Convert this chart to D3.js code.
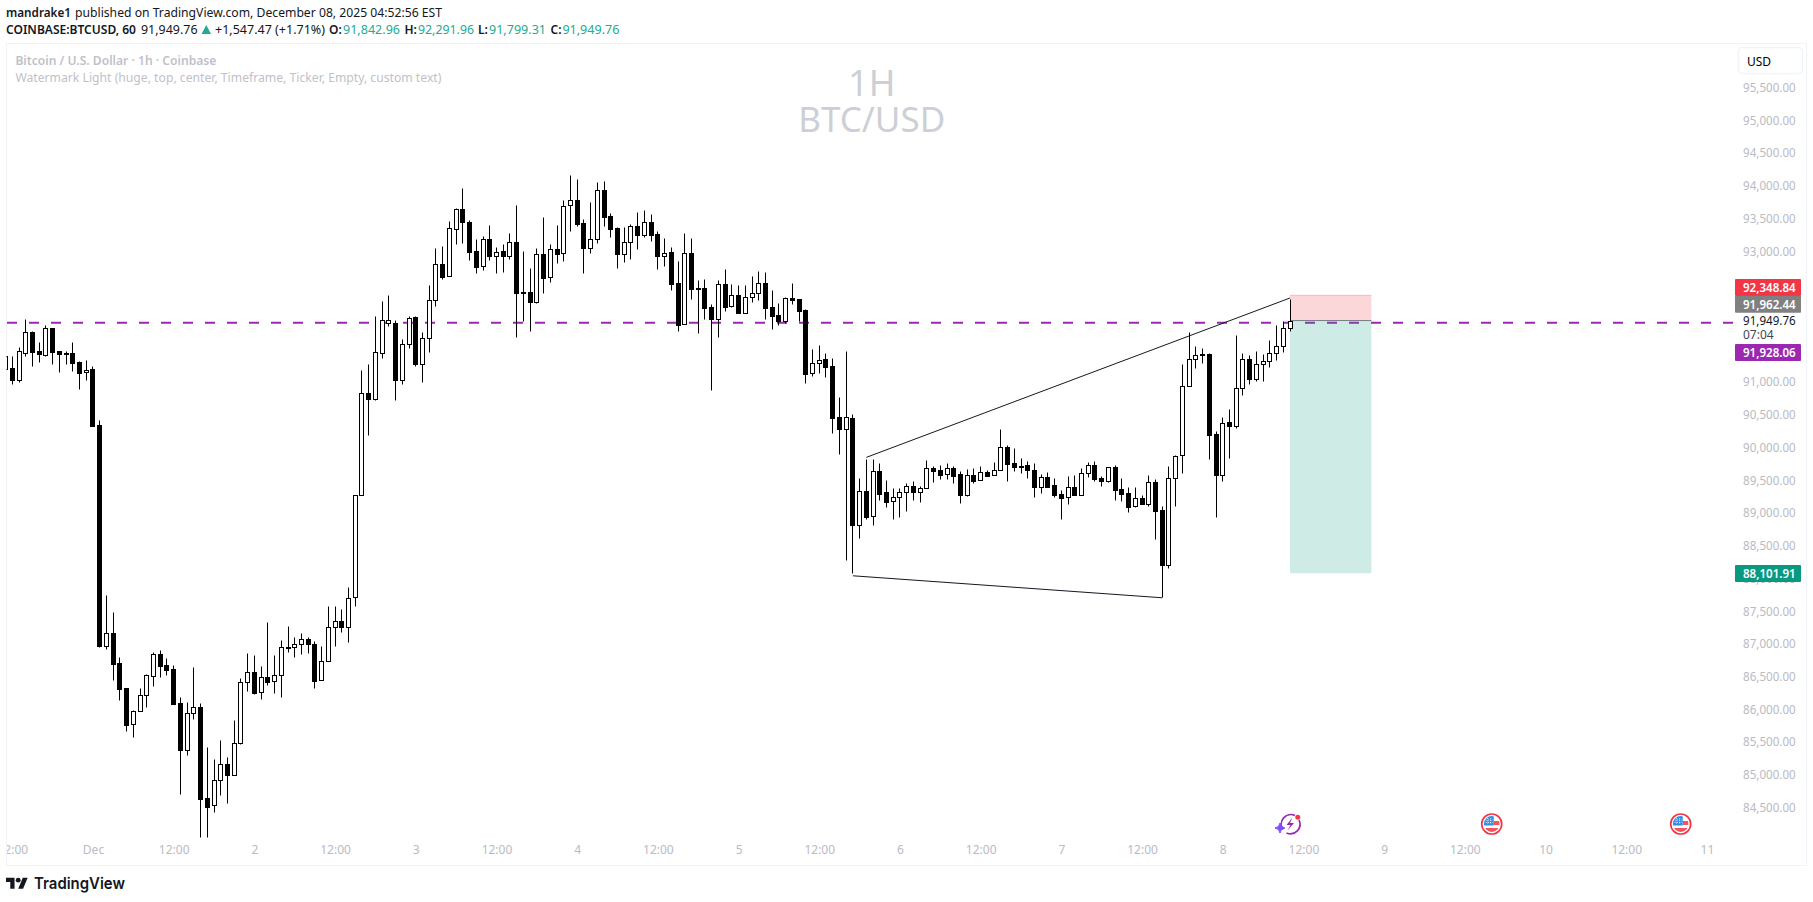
<!DOCTYPE html>
<html>
<head>
<meta charset="utf-8">
<title>BTCUSD 1h</title>
<script src="https://cdnjs.cloudflare.com/ajax/libs/d3/7.8.5/d3.min.js"></script>
<style>
html, body { margin: 0; background: #fff; }
svg { display: block; font-family: "Noto Sans", sans-serif; }
</style>
</head>
<body>
<svg id="chart" width="1813" height="902"></svg>
<script>
// hourly candles
var opens = [91222,91233,91059,91472,91782,91492,91441,91843,91492,91462,91462,91324,91171,91217,90362,86995,87183,86725,86343,85793,
  85992,86236,86526,86862,86694,86633,86114,85396,85961,86053,84663,84557,84938,85183,85015,85513,86435,86587,86282,86511,
  86450,86542,86969,86969,87015,87091,87015,86465,86755,87275,87366,87275,87736,89293,90851,90769,91473,91921,91921,91059,
  91600,92013,91305,91692,92272,92822,92639,93356,93662,93463,93020,92791,93204,92954,93020,92954,93158,92394,92394,92252,
  92974,92623,93051,92990,93723,93799,93448,93076,93204,93952,93555,93372,92985,93158,93402,93275,93463,93280,92954,93005,
  92532,91906,92990,92455,92455,92165,91992,92516,92180,92348,92084,92318,92379,92532,92165,92043,91962,92303,92287,92119,
  91157,91310,91371,91263,90484,90301,90469,88835,89354,88972,89660,89339,89201,89263,89339,89431,89339,89400,89705,89675,
  89614,89705,89614,89303,89598,89522,89644,89598,89675,90026,89782,89736,89751,89675,89425,89568,89446,89308,89263,89415,
  89303,89629,89751,89553,89513,89721,89385,89324,89126,89248,89167,89492,89065,88235,89553,89905,90958,91371,91452,91447,
  90225,89609,90408,90358,90928,91371,91075,91294,91340,91462,91569,91842.96];
var highs = [91421,91421,91553,91981,91798,91630,91889,91843,91492,91492,91630,91339,91355,91263,90439,87771,87504,86816,86343,86007,
  86343,86557,86893,86923,86801,86694,86206,86129,86664,86114,85442,85259,85549,85290,85855,86496,86878,86847,86679,87351,
  86847,87076,87290,87122,87183,87122,87061,86984,87600,87600,87549,87888,89293,91207,91299,92032,92257,92348,91967,91677,
  92028,92028,91783,92501,93066,93097,93478,93677,93982,93494,93204,93249,93417,93081,93127,93295,93723,93020,92761,93066,
  93540,93127,93417,93799,94181,94120,93509,93769,94074,94089,93601,93387,93387,93433,93616,93646,93585,93326,93219,93081,
  92868,93295,93219,92578,92593,92211,92577,92745,92516,92501,92501,92639,92715,92700,92425,92226,92318,92532,92287,92135,
  91524,91585,91463,91385,90790,91492,90530,89553,89843,89843,89782,89522,89400,89400,89476,89507,89431,89828,89736,89751,
  89782,89736,89660,89690,89705,89736,89675,89797,90301,90057,90011,89858,89812,89782,89614,89644,89553,89369,89583,89598,
  89705,89797,89812,89584,89721,89752,89553,89416,89416,89294,89599,89538,89126,89737,89905,91294,91783,91569,91539,91462,
  90271,90485,90607,91737,91462,91432,91493,91447,91661,91890,91951,92291.96];
var lows = [91222,90998,91029,91426,91273,91334,91426,91304,91182,91304,91197,90922,91059,90357,86974,86949,86470,86170,85697,85605,
  85992,86063,86384,86521,86552,86109,84735,85330,85870,84078,84078,84460,84719,84597,85015,85498,86308,86262,86185,86399,
  86277,86216,86903,86827,86873,86888,86353,86465,86755,86990,87203,87051,87608,89293,90220,90754,91397,91885,90754,90998,
  91549,91274,91030,91488,92191,92603,92639,93137,93153,92893,92695,92740,92893,92695,92710,92908,91717,91962,91809,92226,
  92389,92557,92847,92878,93336,93412,92695,93000,93153,93412,93244,92771,92863,92908,93061,93244,93183,92756,92801,92435,
  91809,91906,92298,91778,91992,90908,91717,92114,92175,92084,92084,92252,92282,91992,91839,91901,91931,92221,91951,91015,
  91122,91168,91106,90250,89929,88311,88112,88647,88937,88845,89227,89120,88937,88967,89059,89227,89196,89400,89502,89548,
  89548,89486,89181,89288,89486,89522,89593,89598,89675,89517,89670,89639,89563,89273,89334,89415,89273,88937,89166,89303,
  89303,89568,89517,89442,89503,89228,89212,89044,89121,89167,89136,88632,87736,88189,89136,89640,90958,91243,91320,89854,
  88968,89518,89869,90327,90831,90999,91045,91045,91259,91365,91488,91799.31];
var closes = [91421,91059,91492,91782,91487,91457,91843,91487,91457,91457,91319,91166,91212,90357,86995,87183,86720,86338,85788,85992,
  86236,86542,86862,86689,86628,86109,85407,85961,86053,84658,84536,84938,85183,85015,85503,86435,86587,86277,86511,86445,
  86542,86969,86964,87015,87091,87015,86460,86755,87275,87366,87275,87731,89293,90851,90769,91477,91967,91967,91059,91600,
  91997,91305,91692,92272,92822,92634,93372,93662,93463,93015,92786,93204,92954,93015,92954,93158,92389,92389,92252,92974,
  92618,93051,92985,93708,93799,93443,93076,93204,93952,93550,93366,92985,93158,93402,93275,93463,93275,92954,93000,92527,
  91901,92990,92450,92450,92160,91992,92516,92175,92348,92084,92318,92379,92532,92160,92038,91962,92303,92282,92114,91152,
  91310,91366,91259,90479,90301,90484,88835,89354,88967,89660,89319,89196,89263,89339,89431,89339,89400,89705,89670,89609,
  89705,89593,89303,89598,89517,89644,89593,89675,90026,89777,89731,89731,89675,89425,89568,89425,89303,89257,89415,89303,
  89629,89751,89548,89518,89721,89380,89319,89121,89248,89167,89492,89060,88235,89553,89889,90958,91371,91432,91447,90220,
  89609,90403,90358,90928,91371,91075,91294,91340,91462,91569,91844,91949.76];

// 91,500 to 92,500 sit under the label boxes in the picture, so they are left out
var priceTicks = [84500,85000,85500,86000,86500,87000,87500,88000,88500,89000,89500,90000,90500,91000,93000,93500,94000,94500,95000,95500];
var timeTickBars = [1,13,25,37,49,61,73,85,97,109,121,133,145,157,169,181,193,205,217,229,241,253];
var timeTickLabels = ["12:00","Dec","12:00","2","12:00","3","12:00","4","12:00","5","12:00","6","12:00","7","12:00","8","12:00","9","12:00","10","12:00","11"];

// drawings: bar index and price
var riseLine = [[128, 89872], [191, 92307]];
var fallLine = [[126, 88063], [172, 87727]];
var positionBars = [191, 203.1];
var stopPrice = 92348.84, entryPrice = 91962.44, targetPrice = 88101.91;
var alertPrice = 91928.06, lastPrice = 91949.76;
var eventBars = [191, 221, 249.1];

var W = 1813, H = 902;
var pane = {left: 6.5, top: 43.5, right: 1806.5, bottom: 865.5};
var axisTextX = 1795.7;
var GREY = "#b8bbc4", INK = "#131722", TEAL = "#22ab94";

var svg = d3.select("#chart");
var x = d3.scaleLinear().domain([0, 191]).range([5.575, 1290]);
var y = d3.scaleLinear().domain([84500, 95500]).range([809, 89]);

svg.append("defs").append("clipPath").attr("id", "paneClip").append("rect")
  .attr("x", pane.left).attr("y", pane.top)
  .attr("width", pane.right - pane.left).attr("height", pane.bottom - pane.top);

// pane frame
svg.append("rect")
  .attr("x", pane.left).attr("y", pane.top)
  .attr("width", pane.right - pane.left).attr("height", pane.bottom - pane.top)
  .attr("fill", "#fff").attr("stroke", "#f0f3fa");

// header text
function runs(list, yPos, size) {
  svg.append("g").selectAll("text").data(list).enter().append("text")
    .attr("x", function(d){ return d.x; })
    .attr("y", yPos)
    .attr("font-size", size)
    .attr("font-weight", function(d){ return d.bold ? 600 : 400; })
    .attr("fill", function(d){ return d.color || INK; })
    .attr("textLength", function(d){ return d.len || null; })
    .attr("lengthAdjust", "spacingAndGlyphs")
    .text(function(d){ return d.text; });
}
runs([
  {x: 6, text: "mandrake1", bold: true, len: 65},
  {x: 75, text: "published on TradingView.com, December 08, 2025 04:52:56 EST", len: 367}
], 16.5, 12);
runs([
  {x: 6, text: "COINBASE:BTCUSD, 60", bold: true, len: 130},
  {x: 141, text: "91,949.76", len: 56.5},
  {x: 215, text: "+1,547.47 (+1.71%)", len: 110},
  {x: 329, text: "O:", bold: true},
  {x: 343, text: "91,842.96", color: TEAL, len: 57},
  {x: 404.5, text: "H:", bold: true},
  {x: 418, text: "92,291.96", color: TEAL, len: 56},
  {x: 478, text: "L:", bold: true},
  {x: 489, text: "91,799.31", color: TEAL, len: 57},
  {x: 550.5, text: "C:", bold: true},
  {x: 562.4, text: "91,949.76", color: TEAL, len: 57}
], 33.5, 12);
svg.append("path").attr("d", "M201.5 34L206.3 25L211 34Z").attr("fill", TEAL);

// pane titles and watermark
runs([{x: 15.4, text: "Bitcoin / U.S. Dollar · 1h · Coinbase", bold: true, color: "#bfc1ca", len: 201}], 64.5, 12);
runs([{x: 15.4, text: "Watermark Light (huge, top, center, Timeframe, Ticker, Empty, custom text)", color: "#bfc1ca", len: 426}], 81.5, 12);
svg.append("text").attr("x", 871.7).attr("y", 96).attr("text-anchor", "middle")
  .attr("font-size", 36).attr("fill", "#cdcfd6").text("1H");
svg.append("text").attr("x", 871.7).attr("y", 132).attr("text-anchor", "middle")
  .attr("font-size", 35).attr("fill", "#cdcfd6").text("BTC/USD");

// alert line, below the position and the candles
svg.append("line")
  .attr("x1", 7).attr("x2", 1733)
  .attr("y1", y(alertPrice)).attr("y2", y(alertPrice))
  .attr("stroke", "#9c27b0").attr("stroke-width", 2).attr("stroke-dasharray", "10,12");

// short position box
svg.append("rect")
  .attr("x", x(positionBars[0])).attr("width", x(positionBars[1]) - x(positionBars[0]))
  .attr("y", y(stopPrice)).attr("height", y(entryPrice) - y(stopPrice))
  .attr("fill", "#f23645").attr("fill-opacity", 0.2);
svg.append("rect")
  .attr("x", x(positionBars[0])).attr("width", x(positionBars[1]) - x(positionBars[0]))
  .attr("y", y(entryPrice)).attr("height", y(targetPrice) - y(entryPrice))
  .attr("fill", "#089981").attr("fill-opacity", 0.2);
svg.append("line")
  .attr("x1", x(positionBars[0])).attr("x2", x(positionBars[1]))
  .attr("y1", y(stopPrice)).attr("y2", y(stopPrice))
  .attr("stroke", "#f23645").attr("stroke-opacity", 0.25);
svg.append("line")
  .attr("x1", x(positionBars[0])).attr("x2", x(positionBars[1]))
  .attr("y1", y(entryPrice)).attr("y2", y(entryPrice))
  .attr("stroke", "#787b86");

// candles
var cx = function(i){ return Math.floor(x(i)) + 0.5; };
var cy = function(p){ return Math.round(y(p)) + 0.5; };
var candle = svg.append("g").attr("clip-path", "url(#paneClip)")
  .selectAll("g").data(opens).enter().append("g");
candle.append("line")
  .attr("x1", function(d, i){ return cx(i); })
  .attr("x2", function(d, i){ return cx(i); })
  .attr("y1", function(d, i){ return cy(highs[i]); })
  .attr("y2", function(d, i){ return cy(lows[i]); })
  .attr("stroke", "#000");
candle.append("rect")
  .attr("x", function(d, i){ return cx(i) - 2; })
  .attr("width", 4)
  .attr("y", function(d, i){ return cy(Math.max(opens[i], closes[i])); })
  .attr("height", function(d, i){ return Math.max(1, cy(Math.min(opens[i], closes[i])) - cy(Math.max(opens[i], closes[i]))); })
  .attr("fill", function(d, i){ return closes[i] >= opens[i] ? "#fff" : "#000"; })
  .attr("stroke", "#000");

// trend lines
[riseLine, fallLine].forEach(function(l) {
  svg.append("line")
    .attr("x1", x(l[0][0])).attr("y1", y(l[0][1]))
    .attr("x2", x(l[1][0])).attr("y2", y(l[1][1]))
    .attr("stroke", INK).attr("stroke-width", 1);
});

// price axis
var priceAxis = svg.append("g")
  .attr("transform", "translate(" + axisTextX + ",0)")
  .call(d3.axisLeft(y).tickValues(priceTicks).tickSize(0).tickPadding(0).tickFormat(d3.format(",.2f")));
priceAxis.select(".domain").remove();
priceAxis.selectAll("text")
  .attr("font-family", '"Noto Sans", sans-serif').attr("font-size", 12)
  .attr("fill", GREY).attr("textLength", 52.7).attr("lengthAdjust", "spacingAndGlyphs")
  .attr("dy", "0.2em");

// time axis
var timeAxis = svg.append("g")
  .attr("transform", "translate(0,846)")
  .call(d3.axisBottom(x).tickValues(timeTickBars).tickSize(0).tickPadding(0)
    .tickFormat(function(d, i){ return timeTickLabels[i]; }));
timeAxis.select(".domain").remove();
timeAxis.selectAll("text")
  .attr("font-family", '"Noto Sans", sans-serif').attr("font-size", 12)
  .attr("fill", GREY).attr("dy", "0.7em");
// the first label runs off the pane on the left, as in the picture
svg.append("rect").attr("x", 0).attr("y", 840).attr("width", pane.left).attr("height", 20).attr("fill", "#fff");
svg.append("line").attr("x1", pane.left).attr("x2", pane.left).attr("y1", 840).attr("y2", 860).attr("stroke", "#f0f3fa");

// USD button
svg.append("rect").attr("x", 1738.5).attr("y", 47.5).attr("width", 64).attr("height", 26).attr("rx", 4)
  .attr("fill", "#fff").attr("stroke", "#f0f3fa").attr("stroke-width", 1.5);
svg.append("text").attr("x", 1747).attr("y", 65.5).attr("font-size", 12).attr("fill", "#000").text("USD");

// price labels on the axis
var labelBoxes = [
  {price: stopPrice, color: "#f23645"},
  {price: entryPrice, color: "#808080"},
  {price: alertPrice, color: "#9c27b0"},
  {price: targetPrice, color: "#089981"}
];
var fmt = d3.format(",.2f");
svg.append("g").selectAll("rect").data(labelBoxes).enter().append("rect")
  .attr("x", 1735).attr("width", 66).attr("height", 17).attr("rx", 1)
  .attr("y", function(d){ return d.price === stopPrice ? 279 : d.price === entryPrice ? 295.7 : d.price === alertPrice ? 344 : 565; })
  .attr("fill", function(d){ return d.color; });
svg.append("g").selectAll("text").data(labelBoxes).enter().append("text")
  .attr("x", axisTextX).attr("text-anchor", "end").attr("font-size", 12).attr("font-weight", 600)
  .attr("fill", "#fff").attr("textLength", 52.7).attr("lengthAdjust", "spacingAndGlyphs")
  .attr("y", function(d){ return d.price === stopPrice ? 291.8 : d.price === entryPrice ? 308.5 : d.price === alertPrice ? 356.8 : 577.8; })
  .text(function(d){ return fmt(d.price); });
svg.append("text").attr("x", axisTextX).attr("y", 325.2).attr("text-anchor", "end").attr("font-size", 12)
  .attr("fill", INK).attr("textLength", 52.7).attr("lengthAdjust", "spacingAndGlyphs").text(fmt(lastPrice));
svg.append("text").attr("x", 1743).attr("y", 339).attr("font-size", 12).attr("fill", "#434651").text("07:04");

// event icons
function boltIcon(g) {
  g.append("path").attr("d", "M-7 5.5A9.6 9.6 0 0 1 5 -8.6").attr("fill", "none").attr("stroke", "#9c27b0").attr("stroke-width", 1.7);
  g.append("path").attr("d", "M9 -4A9.6 9.6 0 0 1 -3.5 9").attr("fill", "none").attr("stroke", "#9c27b0").attr("stroke-width", 1.7);
  g.append("path").attr("d", "M2.5 -6.5L-3.5 1H0.5L-2.5 6.5L4 -1H0Z").attr("fill", "#9c27b0");
  g.append("circle").attr("cx", 7.8).attr("cy", -6.7).attr("r", 2.5).attr("fill", "#f23645");
  g.append("path").attr("d", "M-10 -1Q-9.4 3.4 -5 4Q-9.4 4.6 -10 9Q-10.6 4.6 -15 4Q-10.6 3.4 -10 -1Z")
    .attr("fill", "#7c4dff").attr("stroke", "#7c4dff");
}
function flagIcon(g, id) {
  g.append("clipPath").attr("id", id).append("circle").attr("r", 7.9);
  g.append("circle").attr("r", 10).attr("fill", "#fff").attr("stroke", "#f23645").attr("stroke-width", 1.7);
  var f = g.append("g").attr("clip-path", "url(#" + id + ")");
  f.append("rect").attr("x", -8).attr("y", -8).attr("width", 16).attr("height", 16).attr("fill", "#fff");
  f.append("rect").attr("x", 2).attr("y", -3).attr("width", 6).attr("height", 4).attr("fill", "#f7525f");
  f.append("rect").attr("x", -8).attr("y", 4).attr("width", 16).attr("height", 4).attr("fill", "#f7525f");
  f.append("rect").attr("x", -8).attr("y", -8).attr("width", 10).attr("height", 9.5).attr("fill", "#2e8fe8");
  f.append("path").attr("d", "M-4 -6V0M-1 -6V0M-6 -4H1M-6 -1.5H1").attr("stroke", "#fff").attr("stroke-width", 0.8)
    .attr("stroke-dasharray", "1,1.2");
}
eventBars.forEach(function(b, i) {
  var g = svg.append("g").attr("transform", "translate(" + x(b) + ",824)");
  if (i === 0) boltIcon(g); else flagIcon(g, "flag" + i);
});

// TradingView mark
var logo = svg.append("g").attr("transform", "translate(6,875.3) scale(0.61)");
logo.append("path").attr("d", "M14 22H7V11H0V4h14v18zM28 22h-8l7.5-18h8L28 22z").attr("fill", INK);
logo.append("circle").attr("cx", 20).attr("cy", 8).attr("r", 4).attr("fill", INK);
svg.append("text").attr("x", 34).attr("y", 889).attr("font-family", "Inter, sans-serif")
  .attr("font-size", 16.5).attr("font-weight", 600).attr("fill", INK)
  .attr("textLength", 91).attr("lengthAdjust", "spacingAndGlyphs").text("TradingView");
</script>
</body>
</html>
